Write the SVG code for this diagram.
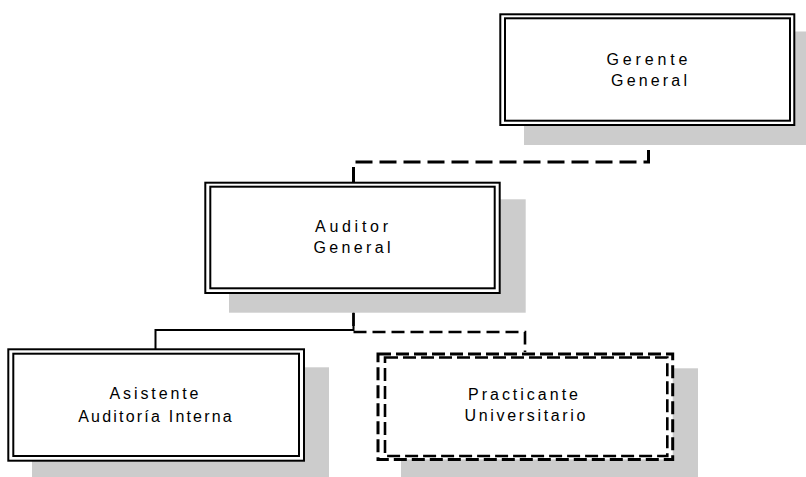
<svg xmlns="http://www.w3.org/2000/svg" width="806" height="477" viewBox="0 0 806 477">
<style>
.shadow{fill:#cccccc;stroke:none}
.outer{fill:#ffffff;stroke:#000;stroke-width:2}
.inner{fill:none;stroke:#000;stroke-width:2}
.douter{fill:#ffffff;stroke:#000;stroke-width:3;stroke-dasharray:13 5}
.dinner{fill:none;stroke:#000;stroke-width:2.6;stroke-dasharray:13 5}
.lbl{font-family:"Liberation Sans",Arial,sans-serif;font-size:16px;fill:#000;text-anchor:middle}
.conn{fill:none;stroke:#000}
</style>
<rect width="806" height="477" fill="#ffffff"/>
<g id="connectors">
<path class="conn" d="M648.5,126 V162 H353.5 V182" stroke-width="3" stroke-dasharray="17 7"/>
<path class="conn" d="M353.5,294 V330 H155.5 V349" stroke-width="2"/>
<path class="conn" d="M353.5,294 V332 H525 V352" stroke-width="2.6" stroke-dasharray="13 6"/>
</g>
<g id="gerente">
<rect class="shadow" x="524" y="31.5" width="296" height="113.5"/>
<rect class="outer" x="500.3" y="14.3" width="294" height="110.7"/>
<rect class="inner" x="505" y="18.3" width="285" height="102.4"/>
<text class="lbl" x="647" y="65" textLength="81" lengthAdjust="spacing">Gerente</text>
<text class="lbl" x="649" y="85.5" textLength="76" lengthAdjust="spacing">General</text>
</g>
<g id="auditor">
<rect class="shadow" x="229" y="199.3" width="296.7" height="113.4"/>
<rect class="outer" x="205.3" y="182.7" width="294.4" height="110.3"/>
<rect class="inner" x="210.3" y="186.7" width="284.4" height="101.6"/>
<text class="lbl" x="351.5" y="232" textLength="73" lengthAdjust="spacing">Auditor</text>
<text class="lbl" x="352" y="252.5" textLength="77" lengthAdjust="spacing">General</text>
</g>
<g id="asistente">
<rect class="shadow" x="32" y="367.3" width="297" height="113"/>
<rect class="outer" x="8.3" y="349.3" width="295.7" height="111.4"/>
<rect class="inner" x="13.3" y="353.7" width="285.7" height="102.3"/>
<text class="lbl" x="154" y="398.5" textLength="89" lengthAdjust="spacing">Asistente</text>
<text class="lbl" x="155" y="421.7" textLength="153.5" lengthAdjust="spacing">Auditoría Interna</text>
</g>
<g id="practicante">
<rect class="shadow" x="401" y="368.3" width="297" height="113"/>
<rect class="douter" x="378" y="354" width="294.7" height="105.4"/>
<rect class="dinner" x="385" y="357.5" width="282.3" height="98.5"/>
<text class="lbl" x="523" y="400" textLength="110" lengthAdjust="spacing">Practicante</text>
<text class="lbl" x="525" y="420.7" textLength="121" lengthAdjust="spacing">Universitario</text>
</g>
</svg>
